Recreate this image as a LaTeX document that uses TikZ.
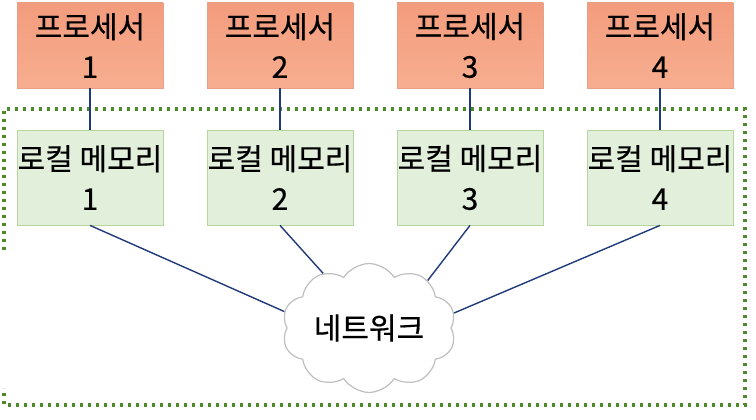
\documentclass[tikz,border=0pt]{standalone}
\usepackage{fontspec}
\setmainfont{Noto Sans CJK KR}[FakeBold=0.5,BoldFont={Noto Sans CJK KR}]
\usetikzlibrary{shapes.symbols}
\definecolor{procTop}{HTML}{F39C7D}
\definecolor{procBot}{HTML}{F7AE90}
\definecolor{procLine}{HTML}{E8A088}
\definecolor{memFill}{HTML}{E2EFDA}
\definecolor{memLine}{HTML}{B5D69F}
\definecolor{linkCol}{HTML}{1F3A78}
\definecolor{dotCol}{HTML}{4E8A2C}
\definecolor{cloudLine}{HTML}{BFBFBF}
\tikzset{
  procbox/.style={draw=procLine, line width=0.8pt, top color=procTop, bottom color=procBot,
    minimum width=146pt, minimum height=85pt, inner sep=0pt, align=center,
    font=\fontsize{30}{40}\selectfont\bfseries},
  membox/.style={draw=memLine, line width=0.8pt, fill=memFill,
    minimum width=146pt, minimum height=95pt, inner sep=0pt, align=center,
    font=\fontsize{30}{40}\selectfont\bfseries},
  link/.style={draw=linkCol, line width=1.4pt},
  netcloud/.style={cloud, cloud puffs=10, cloud puff arc=115, aspect=1.45, draw=cloudLine,
    line width=1.2pt, fill=white, minimum width=174pt, minimum height=123pt, inner sep=0pt,
    font=\fontsize{30}{32}\selectfont\bfseries},
  domainline/.style={draw=dotCol, line width=3.4pt, dash pattern=on 3.4pt off 4.6pt}
}
\begin{document}
\begin{tikzpicture}[x=1pt,y=-1pt]
\useasboundingbox (0,0) rectangle (756,420);
% dotted domain boundary
\coordinate (d1) at (4,250);
\coordinate (d2) at (4,109);
\coordinate (d3) at (745,109);
\coordinate (d4) at (745,405);
\coordinate (d5) at (4,405);
\coordinate (d6) at (4,388);
\draw[domainline] (d1) -- (d2) -- (d3) -- (d4) -- (d5) -- (d6);
% processors
\foreach \i/\x in {1/90,2/280,3/470,4/660}{
  \node[procbox] (p\i) at (\x,45.5) {프로세서\\\i};
  \node[membox] (m\i) at (\x,177.5) {로컬 메모리\\\i};
  \draw[link] (p\i.south) -- (m\i.north);
}
\node[netcloud] (net) at (369,328) {네트워크};
\draw[link] (m1.south) -- (net.169);
\draw[link] (m2.south) -- (net.130);
\draw[link] (m3.south) -- (net.39);
\draw[link] (m4.south) -- (net.10);
\end{tikzpicture}
\end{document}
